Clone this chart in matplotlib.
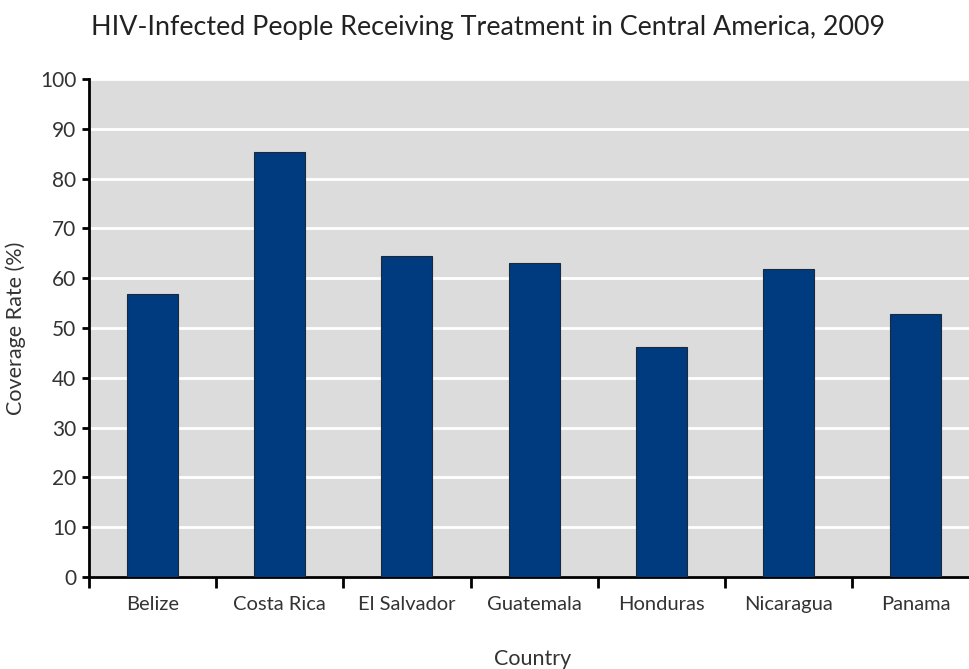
import matplotlib.pyplot as plt
import numpy as np

countries = ["Belize", "Costa Rica", "El Salvador", "Guatemala", "Honduras", "Nicaragua", "Panama"]
coverage = [56.8, 85.3, 64.5, 63.1, 46.2, 61.8, 52.8]
y_ticks = [0, 10, 20, 30, 40, 50, 60, 70, 80, 90, 100]

plt.rcParams['font.family'] = ['Lato', 'DejaVu Sans']
text_col = "#333333"

fig = plt.figure(figsize=(9.69, 6.69), dpi=100)
ax = fig.add_axes([89 / 969, 1 - 577 / 669, 880 / 969, 498 / 669])
ax.set_facecolor("#dcdcdc")

x = np.arange(len(countries))
ax.bar(x, coverage, width=0.4, color="#003a7f", edgecolor="#1a2a3a", linewidth=0.8, zorder=3)

ax.set_yticks(y_ticks)
ax.set_yticklabels([str(v) for v in y_ticks], fontsize=15, color=text_col)
ax.yaxis.grid(True, color="white", linewidth=2, zorder=0)
ax.set_axisbelow(True)

ax.set_xticks(x)
ax.set_xticklabels(countries, fontsize=14.5, color=text_col)
ax.tick_params(axis="x", which="major", length=0, pad=14)
ax.set_xticks(np.arange(-0.5, 7, 1), minor=True)
ax.tick_params(axis="x", which="minor", length=8, width=2, color="black")
ax.tick_params(axis="y", length=5, width=2, color="black", pad=4)

# limits last, set_xticks widens the view otherwise
ax.set_ylim(0, 100)
ax.set_xlim(-0.5, 6.42)

for s in ["top", "right"]:
    ax.spines[s].set_visible(False)
ax.spines["left"].set_linewidth(2)
ax.spines["bottom"].set_linewidth(2)

ax.set_ylabel("Coverage Rate (%)", fontsize=15.5, color=text_col, labelpad=10)
fig.text(533 / 969, 1 - 659 / 669, "Country", fontsize=15.5, color=text_col, ha="center", va="center")
fig.text(488 / 969, 1 - 28 / 669, "HIV-Infected People Receiving Treatment in Central America, 2009",
         fontsize=19.4, color="#222222", ha="center", va="center")

fig.savefig("out.png", dpi=100)
